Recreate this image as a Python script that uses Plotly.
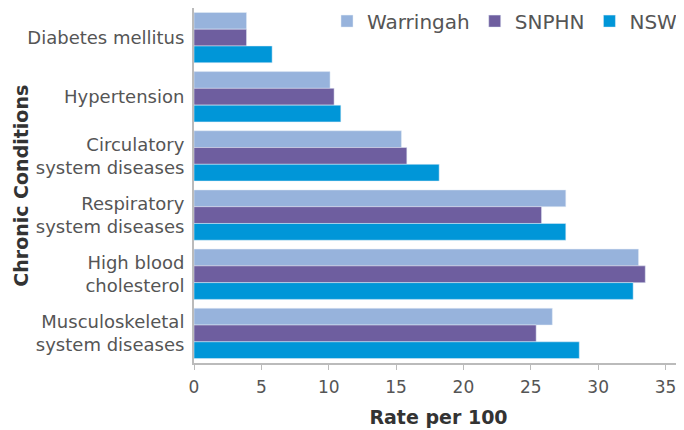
import plotly.graph_objects as go

# Chronic conditions, top to bottom
conditions = ["Diabetes mellitus", "Hypertension", "Circulatory<br>system diseases",
              "Respiratory<br>system diseases", "High blood<br>cholesterol",
              "Musculoskeletal<br>system diseases"]
warringah = [3.9, 10.1, 15.4, 27.6, 33.0, 26.6]
snphn = [3.9, 10.4, 15.8, 25.8, 33.5, 25.4]
nsw = [5.8, 10.9, 18.2, 27.6, 32.6, 28.6]

fig = go.Figure()
fig.add_trace(go.Bar(y=conditions, x=warringah, name="Warringah", orientation="h", marker_color="#97B3DC"))
fig.add_trace(go.Bar(y=conditions, x=snphn, name="SNPHN", orientation="h", marker_color="#6E5E9F"))
fig.add_trace(go.Bar(y=conditions, x=nsw, name="NSW", orientation="h", marker_color="#0096D8"))

# page body has an 8px margin, so the figure is drawn 8px smaller and shifted
font = "DejaVu Sans, sans-serif"
fig.update_layout(
    width=676, height=422,
    barmode="group", bargap=0.15, bargroupgap=0,
    plot_bgcolor="white", paper_bgcolor="white",
    margin=dict(l=186, r=1, t=0, b=67, autoexpand=False),
    font=dict(family=font, color="#555555", size=17),
    legend=dict(orientation="h", x=1.0, xanchor="right", y=1.018, yanchor="top",
                font=dict(size=20, color="#555555"), bgcolor="rgba(0,0,0,0)",
                itemwidth=30, tracegroupgap=0),
)
fig.update_xaxes(range=[0, 36.3], dtick=5, showgrid=False, zeroline=False, automargin=False,
                 showline=True, linecolor="#BBBBBB", linewidth=2,
                 ticks="outside", ticklen=5, tickcolor="#BBBBBB", ticklabelstandoff=3,
                 tickfont=dict(size=17, color="#555555"),
                 title=dict(text="<b>Rate per 100</b>", font=dict(size=19, color="#333333"), standoff=14))
fig.update_yaxes(autorange="reversed", showgrid=False, showline=True, linecolor="#BBBBBB",
                 linewidth=2, ticks="", ticklabelstandoff=4, automargin=False,
                 tickfont=dict(size=18, color="#555555"))
fig.add_annotation(text="<b>Chronic Conditions</b>", xref="paper", yref="paper",
                   x=-0.382, y=0.5, textangle=-90, showarrow=False,
                   font=dict(size=19, color="#333333"))

fig.write_html("out.html")
